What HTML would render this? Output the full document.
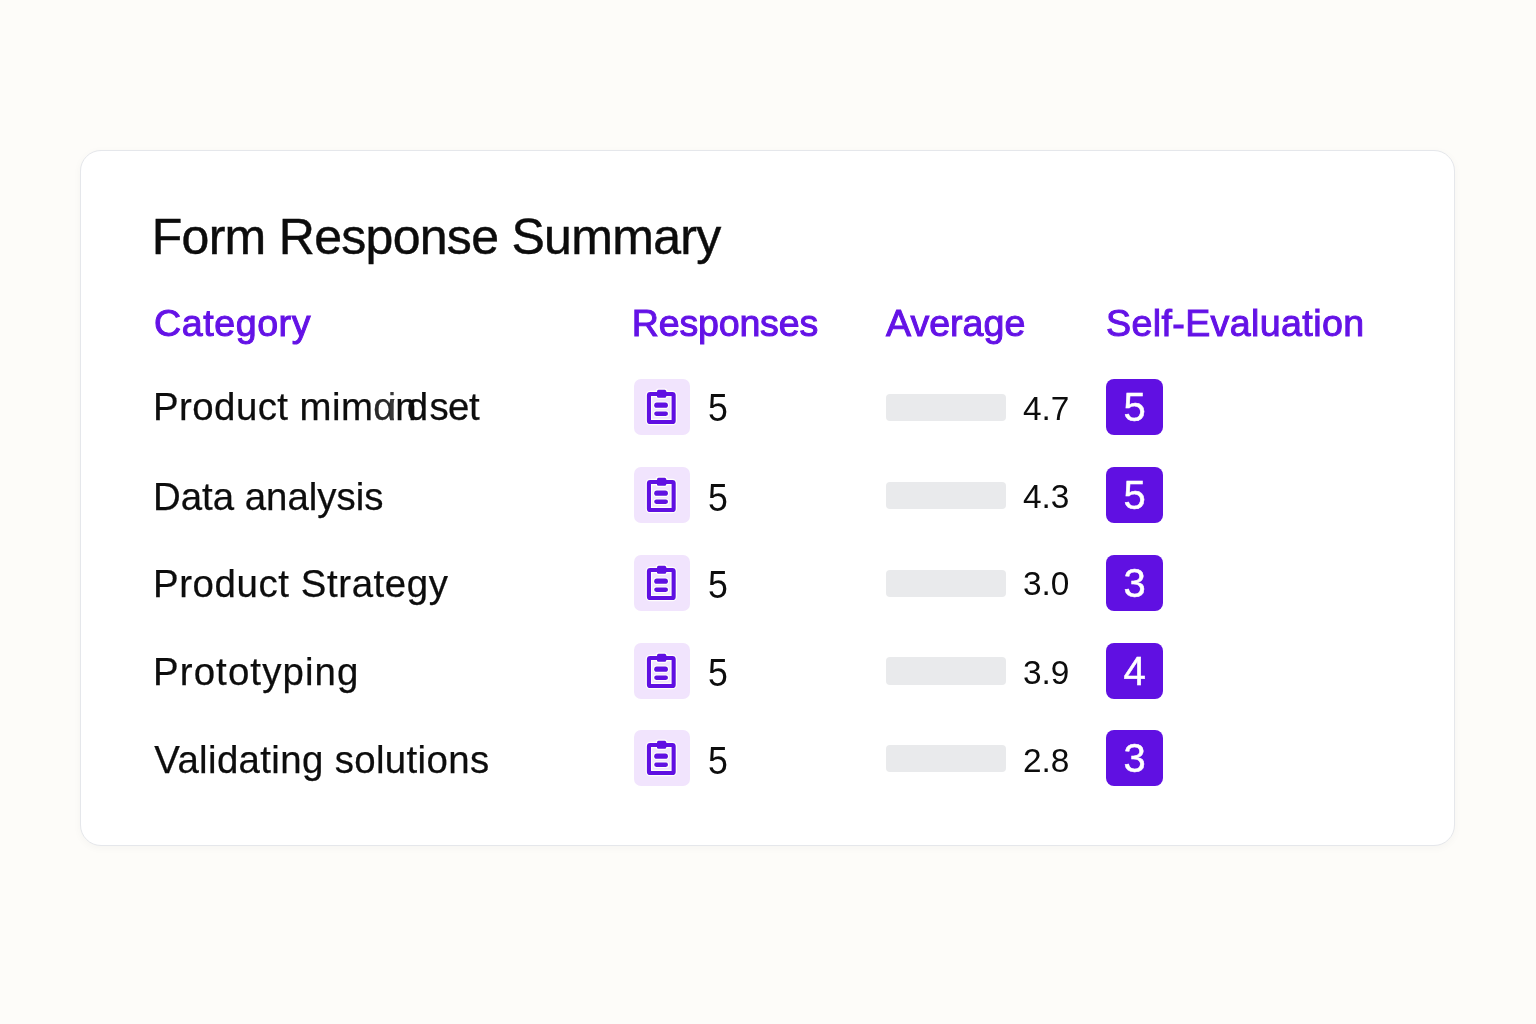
<!DOCTYPE html>
<html>
<head>
<meta charset="utf-8">
<title>Form Response Summary</title>
<style>
html,body{margin:0;padding:0;}
body{width:1536px;height:1024px;background:#fdfcf9;position:relative;overflow:hidden;font-family:"Liberation Sans",sans-serif;}
.card{position:absolute;left:80px;top:150px;width:1372.5px;height:694px;background:#fff;border:1.8px solid #e5e7eb;border-radius:21px;box-shadow:0 2px 8px rgba(0,0,0,0.035);}
.t{position:absolute;white-space:nowrap;line-height:1;}
.title{left:151.7px;font-size:50px;color:#0c0c0c;letter-spacing:-0.7px;-webkit-text-stroke:0.45px #0c0c0c;}
.hd{font-size:37.6px;color:#6412e6;-webkit-text-stroke:1.0px #6412e6;}
.cat{font-size:38.4px;color:#0d0d0d;-webkit-text-stroke:0.25px #0d0d0d;}
.num{font-size:38.4px;color:#0d0d0d;transform:scaleX(0.93);transform-origin:0 0;}
.avg{font-size:33.4px;color:#0d0d0d;letter-spacing:0px;}
.ib{position:absolute;left:634px;width:56px;height:56px;border-radius:7px;background:#f1e4fd;}
.ib svg{position:absolute;left:0;top:0;}
.bar{position:absolute;left:886px;width:120px;height:27.5px;border-radius:4px;background:#e9eaec;}
.bd{position:absolute;left:1106px;width:57px;height:56px;border-radius:8px;background:#6010e2;}
.bd span{position:absolute;left:0;width:57px;text-align:center;font-size:40px;line-height:1;color:#fff;-webkit-text-stroke:0.5px #fff;}
</style>
</head>
<body>
<div class="card"></div>
<div class="t title" style="top:211.56px">Form Response Summary</div>

<div class="t hd" style="left:154px;top:304.96px;letter-spacing:0.57px">Category</div>
<div class="t hd" style="left:631.8px;top:304.96px;letter-spacing:-0.2px">Responses</div>
<div class="t hd" style="left:886px;top:304.96px;letter-spacing:0px">Average</div>
<div class="t hd" style="left:1106px;top:304.96px;letter-spacing:0.38px">Self-Evaluation</div>

<div class="t cat" style="left:153px;top:387.59px;letter-spacing:0.45px">Product mim<span style="margin-left:-0.3px;letter-spacing:-7.6px;color:#2a2a2a">α</span><span style="letter-spacing:-1.1px;color:#3a3a3a;-webkit-text-stroke:0">i</span><span style="letter-spacing:-9.7px">n</span><span style="letter-spacing:1.4px">d</span><span style="letter-spacing:-0.7px">s</span><span style="letter-spacing:-0.4px">e</span><span style="letter-spacing:0">t</span></div>
<div class="ib" style="top:379px"><svg width="56" height="56" viewBox="0 0 56 56"><g fill="none" stroke="#fffefb" stroke-width="2.4" stroke-linejoin="round"><rect x="14.95" y="15.05" width="24.7" height="27.9" rx="1.3" stroke-width="6.6"/><rect x="23" y="10.7" width="9.2" height="8" rx="1.5"/><rect x="20.2" y="23.6" width="13.7" height="5.2" rx="2.6"/><rect x="20.2" y="32.6" width="13.8" height="4.3" rx="2.15"/></g><rect x="14.95" y="15.05" width="24.7" height="27.9" rx="1.3" fill="none" stroke="#6010e2" stroke-width="4.1"/><rect x="23" y="10.7" width="9.2" height="8" rx="1.5" fill="#6010e2"/><rect x="20.2" y="23.6" width="13.7" height="5.2" rx="2.6" fill="#6010e2"/><rect x="20.2" y="32.6" width="13.8" height="4.3" rx="2.15" fill="#6010e2"/></svg></div>
<div class="t num" style="left:708px;top:388.59px">5</div>
<div class="bar" style="top:393.5px"></div>
<div class="t avg" style="left:1023px;top:391.72px">4.7</div>
<div class="bd" style="top:379px"><span style="top:8px">5</span></div>

<div class="t cat" style="left:153px;top:477.59px;letter-spacing:0px">Data analysis</div>
<div class="ib" style="top:467px"><svg width="56" height="56" viewBox="0 0 56 56"><g fill="none" stroke="#fffefb" stroke-width="2.4" stroke-linejoin="round"><rect x="14.95" y="15.05" width="24.7" height="27.9" rx="1.3" stroke-width="6.6"/><rect x="23" y="10.7" width="9.2" height="8" rx="1.5"/><rect x="20.2" y="23.6" width="13.7" height="5.2" rx="2.6"/><rect x="20.2" y="32.6" width="13.8" height="4.3" rx="2.15"/></g><rect x="14.95" y="15.05" width="24.7" height="27.9" rx="1.3" fill="none" stroke="#6010e2" stroke-width="4.1"/><rect x="23" y="10.7" width="9.2" height="8" rx="1.5" fill="#6010e2"/><rect x="20.2" y="23.6" width="13.7" height="5.2" rx="2.6" fill="#6010e2"/><rect x="20.2" y="32.6" width="13.8" height="4.3" rx="2.15" fill="#6010e2"/></svg></div>
<div class="t num" style="left:708px;top:478.59px">5</div>
<div class="bar" style="top:481.5px"></div>
<div class="t avg" style="left:1023px;top:479.82px">4.3</div>
<div class="bd" style="top:467px"><span style="top:8px">5</span></div>

<div class="t cat" style="left:153px;top:565.09px;letter-spacing:0.6px">Product Strategy</div>
<div class="ib" style="top:555.3px"><svg width="56" height="56" viewBox="0 0 56 56"><g fill="none" stroke="#fffefb" stroke-width="2.4" stroke-linejoin="round"><rect x="14.95" y="15.05" width="24.7" height="27.9" rx="1.3" stroke-width="6.6"/><rect x="23" y="10.7" width="9.2" height="8" rx="1.5"/><rect x="20.2" y="23.6" width="13.7" height="5.2" rx="2.6"/><rect x="20.2" y="32.6" width="13.8" height="4.3" rx="2.15"/></g><rect x="14.95" y="15.05" width="24.7" height="27.9" rx="1.3" fill="none" stroke="#6010e2" stroke-width="4.1"/><rect x="23" y="10.7" width="9.2" height="8" rx="1.5" fill="#6010e2"/><rect x="20.2" y="23.6" width="13.7" height="5.2" rx="2.6" fill="#6010e2"/><rect x="20.2" y="32.6" width="13.8" height="4.3" rx="2.15" fill="#6010e2"/></svg></div>
<div class="t num" style="left:708px;top:566.09px">5</div>
<div class="bar" style="top:569.8px"></div>
<div class="t avg" style="left:1023px;top:567.12px">3.0</div>
<div class="bd" style="top:555.3px"><span style="top:8px">3</span></div>

<div class="t cat" style="left:153px;top:652.99px;letter-spacing:1.12px">Prototyping</div>
<div class="ib" style="top:642.6px"><svg width="56" height="56" viewBox="0 0 56 56"><g fill="none" stroke="#fffefb" stroke-width="2.4" stroke-linejoin="round"><rect x="14.95" y="15.05" width="24.7" height="27.9" rx="1.3" stroke-width="6.6"/><rect x="23" y="10.7" width="9.2" height="8" rx="1.5"/><rect x="20.2" y="23.6" width="13.7" height="5.2" rx="2.6"/><rect x="20.2" y="32.6" width="13.8" height="4.3" rx="2.15"/></g><rect x="14.95" y="15.05" width="24.7" height="27.9" rx="1.3" fill="none" stroke="#6010e2" stroke-width="4.1"/><rect x="23" y="10.7" width="9.2" height="8" rx="1.5" fill="#6010e2"/><rect x="20.2" y="23.6" width="13.7" height="5.2" rx="2.6" fill="#6010e2"/><rect x="20.2" y="32.6" width="13.8" height="4.3" rx="2.15" fill="#6010e2"/></svg></div>
<div class="t num" style="left:708px;top:653.99px">5</div>
<div class="bar" style="top:657.1px"></div>
<div class="t avg" style="left:1023px;top:655.72px">3.9</div>
<div class="bd" style="top:642.6px"><span style="top:8px">4</span></div>

<div class="t cat" style="left:154.3px;top:741.29px;letter-spacing:0.36px">Validating solutions</div>
<div class="ib" style="top:730.4px"><svg width="56" height="56" viewBox="0 0 56 56"><g fill="none" stroke="#fffefb" stroke-width="2.4" stroke-linejoin="round"><rect x="14.95" y="15.05" width="24.7" height="27.9" rx="1.3" stroke-width="6.6"/><rect x="23" y="10.7" width="9.2" height="8" rx="1.5"/><rect x="20.2" y="23.6" width="13.7" height="5.2" rx="2.6"/><rect x="20.2" y="32.6" width="13.8" height="4.3" rx="2.15"/></g><rect x="14.95" y="15.05" width="24.7" height="27.9" rx="1.3" fill="none" stroke="#6010e2" stroke-width="4.1"/><rect x="23" y="10.7" width="9.2" height="8" rx="1.5" fill="#6010e2"/><rect x="20.2" y="23.6" width="13.7" height="5.2" rx="2.6" fill="#6010e2"/><rect x="20.2" y="32.6" width="13.8" height="4.3" rx="2.15" fill="#6010e2"/></svg></div>
<div class="t num" style="left:708px;top:742.29px">5</div>
<div class="bar" style="top:744.9px"></div>
<div class="t avg" style="left:1023px;top:743.52px">2.8</div>
<div class="bd" style="top:730.4px"><span style="top:8px">3</span></div>

</body>
</html>
